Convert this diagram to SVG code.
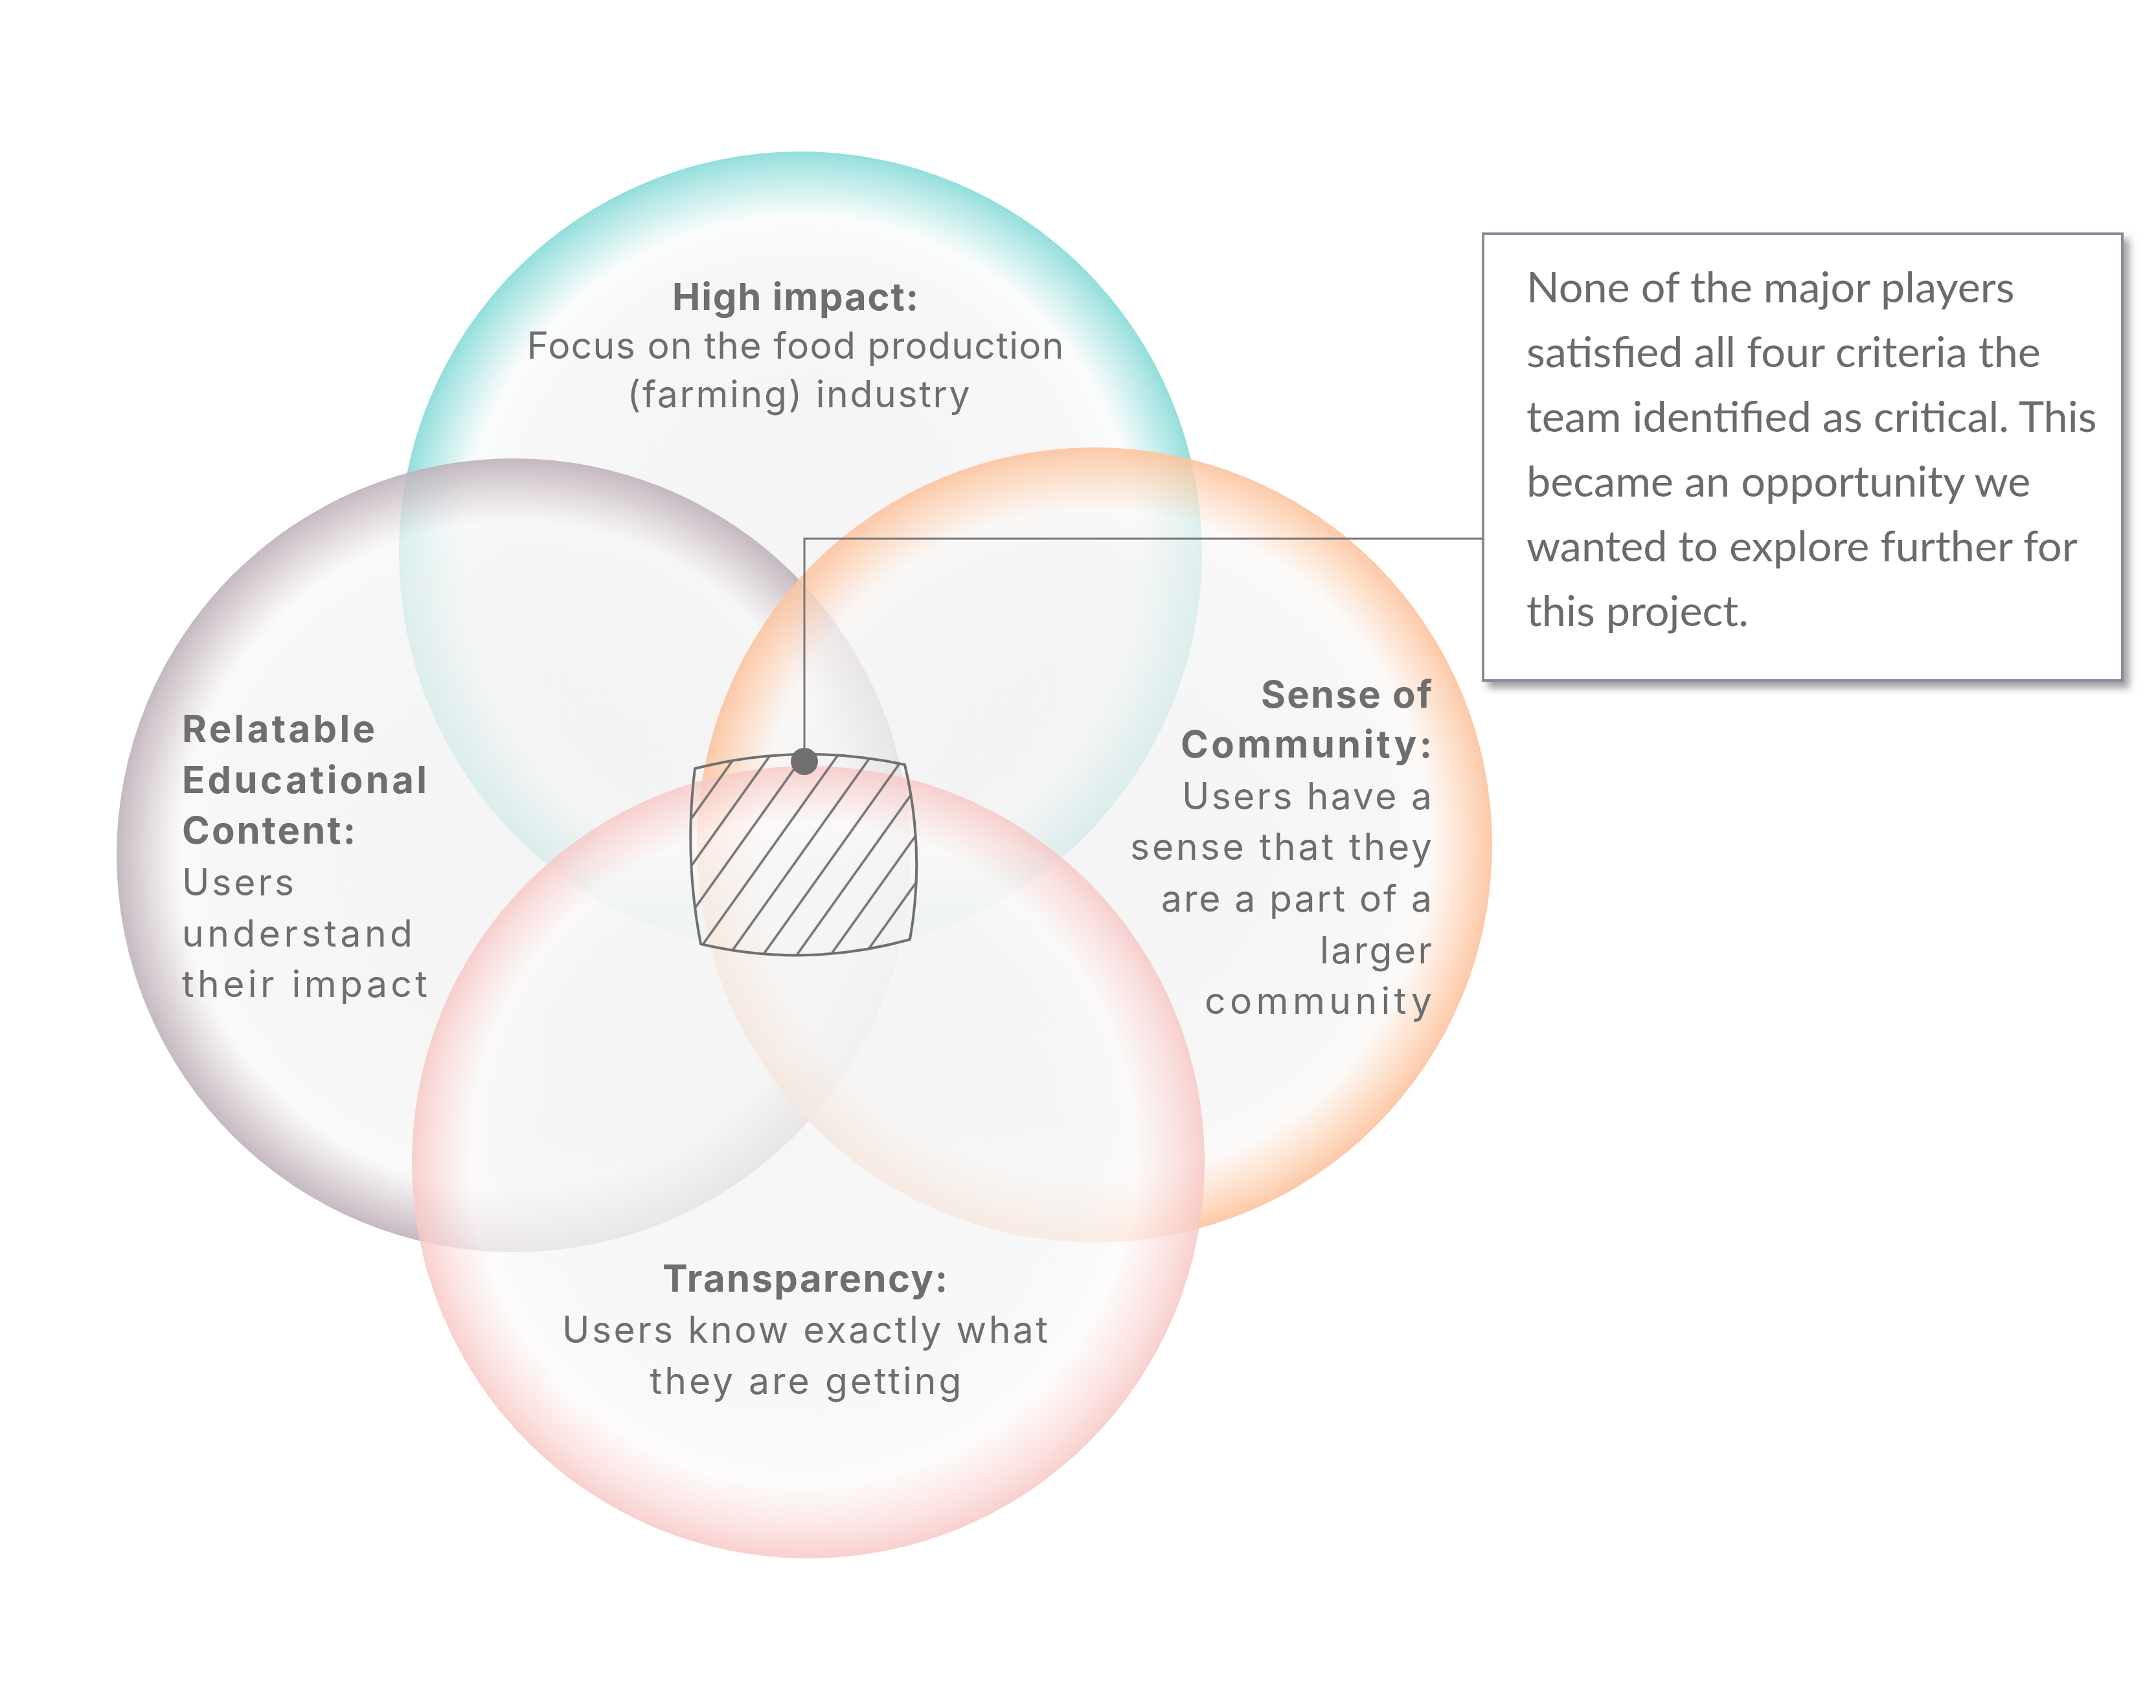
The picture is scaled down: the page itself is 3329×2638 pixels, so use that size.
<svg xmlns="http://www.w3.org/2000/svg" width="3329" height="2638" viewBox="0 0 3329 2638">
<style>
.lbl{font-family:Inter,"Open Sans","Liberation Sans",sans-serif;fill:#6e6e6e;font-size:57px}
.b{font-weight:700;font-size:58px}
.mid{text-anchor:middle}
.end{text-anchor:end}
.note{font-family:Lato,"Liberation Sans",sans-serif;font-size:66.5px;fill:#6b6b6b}
.bubble{stroke:none}
</style>
<defs>
<radialGradient id="gTeal" cx="0.5" cy="0.5" r="0.5">
<stop offset="0" stop-color="#f1f1f1" stop-opacity="0.75"/>
<stop offset="0.72" stop-color="#f4f4f4" stop-opacity="0.75"/>
<stop offset="0.84" stop-color="#f8fbfb" stop-opacity="0.7"/>
<stop offset="0.94" stop-color="#a6e4e1" stop-opacity="0.75"/>
<stop offset="1" stop-color="#86dbd7" stop-opacity="0.9"/>
</radialGradient>
<radialGradient id="gPurple" cx="0.5" cy="0.5" r="0.5">
<stop offset="0" stop-color="#f1f1f1" stop-opacity="0.75"/>
<stop offset="0.72" stop-color="#f4f4f4" stop-opacity="0.75"/>
<stop offset="0.84" stop-color="#f8f7f8" stop-opacity="0.7"/>
<stop offset="0.94" stop-color="#d2c7cd" stop-opacity="0.8"/>
<stop offset="1" stop-color="#bfb1ba" stop-opacity="0.9"/>
</radialGradient>
<radialGradient id="gOrange" cx="0.5" cy="0.5" r="0.5">
<stop offset="0" stop-color="#f1f1f1" stop-opacity="0.75"/>
<stop offset="0.72" stop-color="#f4f4f4" stop-opacity="0.75"/>
<stop offset="0.84" stop-color="#fbf8f6" stop-opacity="0.7"/>
<stop offset="0.94" stop-color="#fdd5b9" stop-opacity="0.8"/>
<stop offset="1" stop-color="#fcc39e" stop-opacity="0.9"/>
</radialGradient>
<radialGradient id="gPink" cx="0.5" cy="0.5" r="0.5" fx="0.46" fy="0.44">
<stop offset="0" stop-color="#f3f3f3" stop-opacity="0.75"/>
<stop offset="0.72" stop-color="#f6f6f6" stop-opacity="0.75"/>
<stop offset="0.84" stop-color="#fcf9f9" stop-opacity="0.7"/>
<stop offset="0.94" stop-color="#fadad8" stop-opacity="0.75"/>
<stop offset="1" stop-color="#f7c8c5" stop-opacity="0.85"/>
</radialGradient>
<pattern id="hatch" patternUnits="userSpaceOnUse" width="42.5" height="20" patternTransform="translate(1114.4,1454.4) rotate(35.5)">
<line x1="21.25" y1="-2" x2="21.25" y2="22" stroke="#707070" stroke-width="3.5"/>
</pattern>
<filter id="shadow" x="-10%" y="-10%" width="125%" height="125%">
<feDropShadow dx="9" dy="10" stdDeviation="6" flood-color="#555555" flood-opacity="0.55"/>
</filter>
</defs>
<rect x="0" y="0" width="3329" height="2638" fill="#ffffff"/>

<g id="node-high-impact">
<circle class="bubble" cx="1236" cy="854" r="620" fill="url(#gTeal)"/>
<text class="lbl b mid" x="1228" y="479" textLength="380" lengthAdjust="spacing">High impact:</text>
<text class="lbl mid" x="1228" y="554" textLength="829" lengthAdjust="spacing">Focus on the food production</text>
<text class="lbl mid" x="1233" y="629" textLength="529" lengthAdjust="spacing">(farming) industry</text>
</g>

<g id="node-relatable-content">
<circle class="bubble" cx="793" cy="1321" r="613" fill="url(#gPurple)"/>
<text class="lbl b" x="281" y="1146" textLength="298" lengthAdjust="spacing">Relatable</text>
<text class="lbl b" x="281" y="1225" textLength="378" lengthAdjust="spacing">Educational</text>
<text class="lbl b" x="281" y="1303" textLength="268" lengthAdjust="spacing">Content:</text>
<text class="lbl" x="281" y="1383" textLength="173" lengthAdjust="spacing">Users</text>
<text class="lbl" x="281" y="1462" textLength="356" lengthAdjust="spacing">understand</text>
<text class="lbl" x="281" y="1540" textLength="379" lengthAdjust="spacing">their impact</text>
</g>

<g id="node-sense-of-community">
<circle class="bubble" cx="1690" cy="1305" r="614" fill="url(#gOrange)"/>
<text class="lbl b end" x="2211" y="1093" textLength="264" lengthAdjust="spacing">Sense of</text>
<text class="lbl b end" x="2211" y="1170" textLength="388" lengthAdjust="spacing">Community:</text>
<text class="lbl end" x="2211" y="1250" textLength="386" lengthAdjust="spacing">Users have a</text>
<text class="lbl end" x="2211" y="1328" textLength="466" lengthAdjust="spacing">sense that they</text>
<text class="lbl end" x="2211" y="1408" textLength="418" lengthAdjust="spacing">are a part of a</text>
<text class="lbl end" x="2211" y="1488" textLength="173" lengthAdjust="spacing">larger</text>
<text class="lbl end" x="2211" y="1566" textLength="351" lengthAdjust="spacing">community</text>
</g>

<g id="node-transparency">
<circle class="bubble" cx="1248" cy="1795" r="612" fill="url(#gPink)"/>
<text class="lbl b mid" x="1243" y="1995" textLength="440" lengthAdjust="spacing">Transparency:</text>
<text class="lbl mid" x="1243" y="2074" textLength="750" lengthAdjust="spacing">Users know exactly what</text>
<text class="lbl mid" x="1244" y="2153" textLength="481" lengthAdjust="spacing">they are getting</text>
</g>

<g id="node-intersection">
<path d="M1073,1187 Q1233,1146 1397,1181 Q1429,1316 1405,1451 Q1243,1496 1082,1458 Q1056,1322 1073,1187 Z" fill="url(#hatch)" stroke="#707070" stroke-width="4" stroke-linejoin="round"/>
</g>

<g id="node-callout">
<rect x="2290" y="361" width="987" height="690" fill="#ffffff" stroke="#8a8a9a" stroke-width="4" filter="url(#shadow)"/>
<text class="note" x="2357" y="467">None of the major players</text>
<text class="note" x="2357" y="567">satisfied all four criteria the</text>
<text class="note" x="2357" y="667">team identified as critical. This</text>
<text class="note" x="2357" y="767">became an opportunity we</text>
<text class="note" x="2357" y="867">wanted to explore further for</text>
<text class="note" x="2357" y="967">this project.</text>
</g>

<g id="connectors">
<polyline points="1242,1176 1242,832 2290,832" fill="none" stroke="#767676" stroke-width="3"/>
<circle cx="1242" cy="1176" r="21" fill="#707070"/>
</g>
</svg>
